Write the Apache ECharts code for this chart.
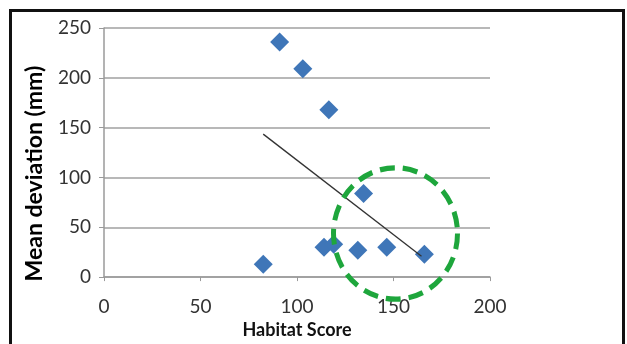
<!DOCTYPE html>
<html>
<head>
<meta charset="utf-8">
<script src="https://cdn.jsdelivr.net/npm/echarts@6/dist/echarts.min.js"></script>
<style>
  html, body { margin: 0; padding: 0; background: #fff; }
  #chartmain { width: 627px; height: 344px; }
</style>
</head>
<body>
<div id="chartmain"></div>
<script>
// habitat score vs mean deviation
var habitatScore = [91, 103, 116.5, 134.5, 114, 119, 131.5, 146.5, 166, 82.5];
var meanDeviation = [236, 209, 168, 84, 30, 33, 27, 30, 23, 13];
// trend line ends
var trendX = [82.5, 164.5];
var trendY = [143.5, 21];
var xTicks = [0, 50, 100, 150, 200];
var yTicks = [0, 50, 100, 150, 200, 250];

var pts = [];
for (var i = 0; i < habitatScore.length; i++) {
	pts.push([habitatScore[i], meanDeviation[i]]);
}
var trend = [[trendX[0], trendY[0]], [trendX[1], trendY[1]]];

var myChart = echarts.init(document.getElementById('chartmain'));
var option = {
	animation: false,
	grid: { left: 104, right: 137, top: 28, bottom: 65 },
	xAxis: {
		type: 'value',
		min: xTicks[0], max: xTicks[xTicks.length - 1], interval: 50,
		name: 'Habitat Score',
		nameLocation: 'middle',
		nameGap: 42,
		nameTextStyle: { fontFamily: 'Lato', fontWeight: 'bold', fontSize: 18, color: '#111' },
		axisLine: { lineStyle: { color: '#9a9a9a', width: 1.5 } },
		axisTick: { show: true, length: 4, lineStyle: { color: '#9a9a9a' } },
		axisLabel: { fontFamily: 'Lato', fontSize: 19, color: '#333', margin: 20 },
		splitLine: { show: false }
	},
	yAxis: {
		type: 'value',
		min: yTicks[0], max: yTicks[yTicks.length - 1], interval: 50,
		name: 'Mean deviation (mm)',
		nameLocation: 'middle',
		nameGap: 58,
		nameTextStyle: { fontFamily: 'Lato', fontWeight: 'bold', fontSize: 23, color: '#000', padding: [0, 42, 0, 0] },
		axisLine: { show: true, lineStyle: { color: '#9a9a9a', width: 1.5 } },
		axisTick: { show: true, length: 5, lineStyle: { color: '#9a9a9a' } },
		axisLabel: { fontFamily: 'Lato', fontSize: 19, color: '#333', margin: 13 },
		splitLine: { lineStyle: { color: '#a0a0a0', width: 1.5 } }
	},
	series: [
		{
			type: 'scatter',
			data: pts,
			symbol: 'diamond',
			symbolSize: [19, 19],
			itemStyle: { color: '#3f76b8', opacity: 1 },
			z: 3
		},
		{
			type: 'line',
			data: trend,
			symbol: 'none',
			lineStyle: { color: '#333', width: 1.3 },
			z: 4
		}
	],
	graphic: [
		{
			type: 'rect',
			shape: { x: 10.5, y: 10.5, width: 613, height: 345 },
			style: { fill: 'none', stroke: '#111', lineWidth: 3 },
			silent: true
		},
		{
			type: 'circle',
			shape: { cx: 395.5, cy: 233.5, r: 62 },
			scaleY: 1.06,
			originX: 395.5, originY: 233.5,
			style: { fill: 'none', stroke: '#1ea63c', lineWidth: 5, lineDash: [15, 8] },
			silent: true,
			z: 10
		}
	]
};
myChart.setOption(option);
</script>
</body>
</html>
